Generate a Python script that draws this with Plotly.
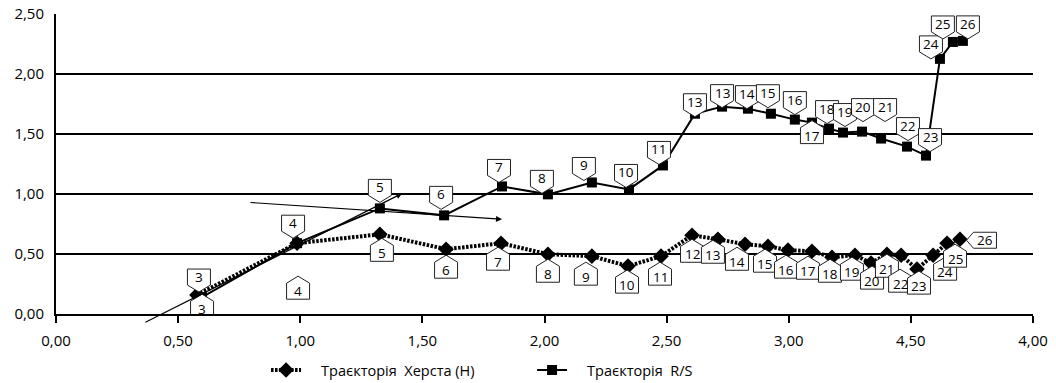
import plotly.graph_objects as go

# ---------------- data ----------------
h_x = [0.577, 0.987, 1.326, 1.597, 1.822, 2.014, 2.194, 2.342, 2.477, 2.604, 2.710, 2.821,
       2.915, 2.997, 3.095, 3.177, 3.271, 3.337, 3.402, 3.460, 3.525, 3.591, 3.648, 3.701]
h_y = [0.158, 0.59, 0.664, 0.54, 0.59, 0.498, 0.482, 0.399, 0.482, 0.656, 0.623, 0.581,
       0.565, 0.532, 0.523, 0.473, 0.49, 0.424, 0.498, 0.49, 0.374, 0.49, 0.59, 0.623]
h_labels = ["3", "4", "5", "6", "7", "8", "9", "10", "11", "12", "13", "14",
            "15", "16", "17", "18", "19", "20", "21", "22", "23", "24", "25", "26"]

rs_x = [0.598, 0.987, 1.326, 1.589, 1.826, 2.014, 2.194, 2.346, 2.485, 2.616, 2.727, 2.833,
        2.927, 3.025, 3.095, 3.165, 3.222, 3.300, 3.378, 3.484, 3.562, 3.619, 3.672, 3.713]
rs_y = [0.14, 0.59, 0.88, 0.822, 1.063, 0.997, 1.096, 1.038, 1.238, 1.669, 1.728, 1.711,
        1.669, 1.62, 1.595, 1.545, 1.512, 1.52, 1.462, 1.395, 1.32, 2.126, 2.267, 2.276]
rs_labels = ["3", "4", "5", "6", "7", "8", "9", "10", "11", "13", "13", "14",
             "15", "16", "17", "18", "19", "20", "21", "22", "23", "24", "25", "26"]

x_tickvals = [0, 0.5, 1.0, 1.5, 2.0, 2.5, 3.0, 3.5, 4.0]
x_ticktext = ["0,00", "0,50", "1,00", "1,50", "2,00", "2,50", "3,00", "4,50", "4,00"]

name_h = "Траєкторія  Херста (H)"
name_rs = "Траєкторія  R/S"

# trend arrows (tail -> head), data coordinates
arrow_tails = [(0.36, -0.075), (0.79, 0.93)]
arrow_heads = [(1.417, 1.005), (1.826, 0.789)]

# ---------------- label placement (pixel offsets, styles) ----------------
h_off = [(2, 18, "down"), (-4, 20, "down"), (2, -19, "up"), (0, -21, "up"), (-3, -19, "up"),
         (0, -20, "up"), (-6, -21, "up"), (-1, -19, "up"), (-1, -21, "up"), (0, -19, "up"),
         (-5, -16, "up"), (-8, -18, "up"), (-3, -18, "up"), (-2, -20, "up"), (-4, -20, "up"),
         (-2, -17, "up"), (-3, -17, "up"), (1, -18, "up"), (0, -15, "up"), (-1, -29, "up"),
         (2, -17, "up"), (12, -17, "up"), (8, -16, "up"), (25, -1, "left")]
rs_off = [(0, -12, "up"), (1, -48, "up"), (0, 21, "down"), (-3, 21, "down"), (-3, 19, "down"),
          (-6, 16, "down"), (-8, 17, "down"), (-3, 17, "down"), (-4, 16, "down"), (0, 12, "down"),
          (0, 14, "down"), (-1, 15, "down"), (-3, 21, "down"), (0, 20, "down"), (0, -13, "up"),
          (-2, 20, "down"), (2, 21, "down"), (1, 25, "down"), (4, 32, "down"), (1, 21, "down"),
          (4, 19, "down"), (-9, 15, "down"), (-10, 18, "down"), (5, 17, "down")]

FONT = "Open Sans"
NB = "\u00a0"


def pent_path(dx, dy, d, w=23, h=16, p=7):
    l, r = dx - w / 2, dx + w / 2
    t, b = dy + h / 2, dy - h / 2
    if d == "down":
        pts = [(l, t), (r, t), (r, b), (dx, b - p), (l, b)]
    elif d == "up":
        pts = [(l, b), (r, b), (r, t), (dx, t + p), (l, t)]
    else:  # left
        pts = [(r, t), (r, b), (l, b), (l - p, dy), (l, t)]
    return "M " + " L ".join(f"{a:.1f},{c:.1f}" for a, c in pts) + " Z"


fig = go.Figure()

fig.add_trace(go.Scatter(
    x=h_x, y=h_y, mode="lines+markers",
    name=NB * 4 + name_h.replace(" ", NB),
    line=dict(color="black", width=4, dash="2.5px,1.5px"),
    marker=dict(symbol="diamond", size=12, color="black"),
))
fig.add_trace(go.Scatter(
    x=rs_x, y=rs_y, mode="lines+markers",
    name=NB * 4 + name_rs.replace(" ", NB),
    line=dict(color="black", width=2),
    marker=dict(symbol="square", size=10, color="black"),
))

shapes = []
annotations = []
for xs, ys, labs, offs in [(h_x, h_y, h_labels, h_off), (rs_x, rs_y, rs_labels, rs_off)]:
    for xv, yv, lab, (dx, dy, d) in zip(xs, ys, labs, offs):
        shapes.append(dict(
            type="path", xref="x", yref="y", xsizemode="pixel", ysizemode="pixel",
            xanchor=xv, yanchor=yv, path=pent_path(dx, dy, d),
            fillcolor="white", line=dict(color="#222", width=1), layer="above",
        ))
        annotations.append(dict(
            x=xv, y=yv, xref="x", yref="y", text=lab, showarrow=False,
            xshift=dx, yshift=dy, font=dict(family=FONT, size=13.5, color="black"),
        ))

for (tx, ty), (hx, hy) in zip(arrow_tails, arrow_heads):
    annotations.append(dict(
        x=hx, y=hy, ax=tx, ay=ty, xref="x", yref="y", axref="x", ayref="y",
        text="", showarrow=True, arrowhead=2, arrowsize=1, arrowwidth=1.2,
        arrowcolor="black",
    ))

fig.update_layout(
    width=1056, height=383, autosize=False,
    margin=dict(l=56, r=23, t=14, b=69, autoexpand=False),
    paper_bgcolor="white", plot_bgcolor="white",
    separators=",.",
    font=dict(family=FONT, size=14, color="black"),
    shapes=shapes, annotations=annotations,
    showlegend=True,
    legend=dict(
        orientation="h", x=0.215, xanchor="left", y=-0.187, yanchor="middle",
        entrywidth=221, entrywidthmode="pixels",
        font=dict(family=FONT, size=14.5, color="black"),
        bgcolor="rgba(0,0,0,0)",
    ),
    xaxis=dict(
        range=[0, 4], tickvals=x_tickvals, ticktext=x_ticktext, automargin=False,
        showgrid=False, zeroline=False, showline=True, linecolor="black", linewidth=2,
        ticks="outside", ticklen=7, tickwidth=2, tickcolor="black",
        ticklabelstandoff=5, tickfont=dict(family=FONT, size=15, color="black"),
    ),
    yaxis=dict(
        range=[0, 2.5], dtick=0.5, tick0=0, tickformat=".2f", automargin=False,
        showgrid=True, gridcolor="black", gridwidth=1.5, zeroline=False,
        showline=True, linecolor="black", linewidth=2, ticks="",
        ticklabelstandoff=7, tickfont=dict(family=FONT, size=15, color="black"),
    ),
)

fig.write_html("out.html", post_script="document.body.style.margin='0px';",
               config={"displayModeBar": False})
